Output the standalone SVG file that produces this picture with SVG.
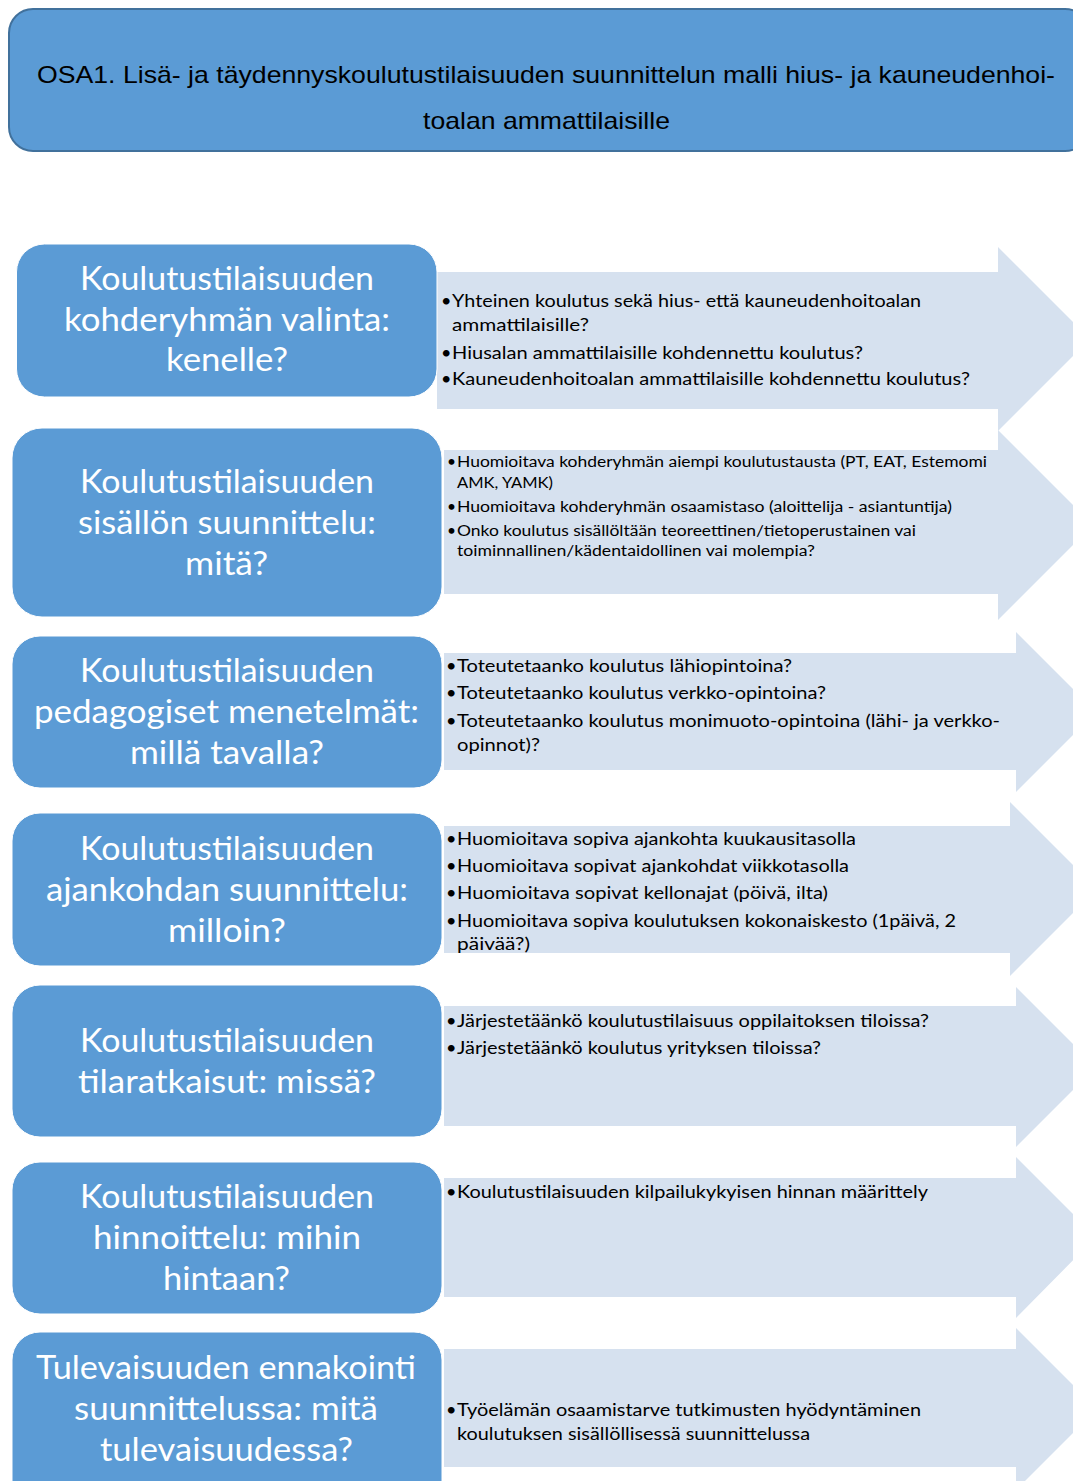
<svg xmlns="http://www.w3.org/2000/svg" width="1073" height="1481" viewBox="0 0 1073 1481">
<style>
.hdr{fill:#5B9BD5;stroke:#41719C;stroke-width:2}
.box{fill:#5B9BD5;stroke:#ffffff;stroke-width:1}
.arr{fill:#D6E1EF}
.ht{font-family:"Liberation Sans",Arial,sans-serif;font-size:24px;fill:#000}
.bt{font-family:Lato,"Open Sans",sans-serif;font-size:33px;fill:#ffffff}
.tt{font-family:Lato,"Open Sans",sans-serif;font-size:18px;fill:#000}
.ts{font-family:Lato,"Open Sans",sans-serif;font-size:15.5px;fill:#000}
</style>
<rect width="1073" height="1481" fill="#ffffff"/>
<g id="header">
<rect class="hdr" x="9" y="9" width="1080" height="142" rx="24"/>
<text class="ht" x="37" y="83" textLength="1018" lengthAdjust="spacingAndGlyphs">OSA1. Lisä- ja täydennyskoulutustilaisuuden suunnittelun malli hius- ja kauneudenhoi-</text>
<text class="ht" x="423" y="129" textLength="247" lengthAdjust="spacingAndGlyphs">toalan ammattilaisille</text>
</g>

<g id="arrow1">
<polygon class="arr" points="437,272 998,272 998,247 1090,339 998,431 998,409 437,409"/>
<text class="tt" x="441" y="307">•</text>
<text class="tt" x="452" y="307" textLength="469" lengthAdjust="spacingAndGlyphs">Yhteinen koulutus sekä hius- että kauneudenhoitoalan</text>
<text class="tt" x="452" y="331" textLength="137" lengthAdjust="spacingAndGlyphs">ammattilaisille?</text>
<text class="tt" x="441" y="359">•</text>
<text class="tt" x="452" y="359" textLength="411" lengthAdjust="spacingAndGlyphs">Hiusalan ammattilaisille kohdennettu koulutus?</text>
<text class="tt" x="441" y="385">•</text>
<text class="tt" x="452" y="385" textLength="518" lengthAdjust="spacingAndGlyphs">Kauneudenhoitoalan ammattilaisille kohdennettu koulutus?</text>
</g>
<g id="node1">
<rect class="box" x="16.5" y="244" width="420.5" height="153" rx="28"/>
<text class="bt" x="80" y="290" textLength="294" lengthAdjust="spacingAndGlyphs">Koulutustilaisuuden</text>
<text class="bt" x="64" y="331" textLength="326" lengthAdjust="spacingAndGlyphs">kohderyhmän valinta:</text>
<text class="bt" x="166" y="371" textLength="122" lengthAdjust="spacingAndGlyphs">kenelle?</text>
</g>

<g id="arrow2">
<polygon class="arr" points="444,450 998,450 998,430 1093,525 998,620 998,594 444,594"/>
<text class="ts" x="447" y="467">•</text>
<text class="ts" x="457" y="467" textLength="530" lengthAdjust="spacingAndGlyphs">Huomioitava kohderyhmän aiempi koulutustausta (PT, EAT, Estemomi</text>
<text class="ts" x="457" y="488" textLength="96" lengthAdjust="spacingAndGlyphs">AMK, YAMK)</text>
<text class="ts" x="447" y="512">•</text>
<text class="ts" x="457" y="512" textLength="495" lengthAdjust="spacingAndGlyphs">Huomioitava kohderyhmän osaamistaso (aloittelija - asiantuntija)</text>
<text class="ts" x="447" y="536">•</text>
<text class="ts" x="457" y="536" textLength="459" lengthAdjust="spacingAndGlyphs">Onko koulutus sisällöltään teoreettinen/tietoperustainen vai</text>
<text class="ts" x="457" y="556" textLength="358" lengthAdjust="spacingAndGlyphs">toiminnallinen/kädentaidollinen vai molempia?</text>
</g>
<g id="node2">
<rect class="box" x="12" y="428" width="430" height="189" rx="30"/>
<text class="bt" x="80" y="493" textLength="294" lengthAdjust="spacingAndGlyphs">Koulutustilaisuuden</text>
<text class="bt" x="78" y="534" textLength="298" lengthAdjust="spacingAndGlyphs">sisällön suunnittelu:</text>
<text class="bt" x="185" y="575" textLength="83" lengthAdjust="spacingAndGlyphs">mitä?</text>
</g>

<g id="arrow3">
<polygon class="arr" points="444,653 1016,653 1016,632 1096,712 1016,792 1016,770 444,770"/>
<text class="tt" x="446" y="672">•</text>
<text class="tt" x="457" y="672" textLength="335" lengthAdjust="spacingAndGlyphs">Toteutetaanko koulutus lähiopintoina?</text>
<text class="tt" x="446" y="699">•</text>
<text class="tt" x="457" y="699" textLength="369" lengthAdjust="spacingAndGlyphs">Toteutetaanko koulutus verkko-opintoina?</text>
<text class="tt" x="446" y="727">•</text>
<text class="tt" x="457" y="727" textLength="543" lengthAdjust="spacingAndGlyphs">Toteutetaanko koulutus monimuoto-opintoina (lähi- ja verkko-</text>
<text class="tt" x="457" y="751" textLength="83" lengthAdjust="spacingAndGlyphs">opinnot)?</text>
</g>
<g id="node3">
<rect class="box" x="12" y="636" width="430" height="152" rx="28"/>
<text class="bt" x="80" y="682" textLength="294" lengthAdjust="spacingAndGlyphs">Koulutustilaisuuden</text>
<text class="bt" x="34" y="723" textLength="385" lengthAdjust="spacingAndGlyphs">pedagogiset menetelmät:</text>
<text class="bt" x="130" y="764" textLength="194" lengthAdjust="spacingAndGlyphs">millä tavalla?</text>
</g>

<g id="arrow4">
<polygon class="arr" points="444,826 1010,826 1010,802 1097,889 1010,976 1010,953 444,953"/>
<text class="tt" x="446" y="845">•</text>
<text class="tt" x="457" y="845" textLength="399" lengthAdjust="spacingAndGlyphs">Huomioitava sopiva ajankohta kuukausitasolla</text>
<text class="tt" x="446" y="872">•</text>
<text class="tt" x="457" y="872" textLength="392" lengthAdjust="spacingAndGlyphs">Huomioitava sopivat ajankohdat viikkotasolla</text>
<text class="tt" x="446" y="899">•</text>
<text class="tt" x="457" y="899" textLength="371" lengthAdjust="spacingAndGlyphs">Huomioitava sopivat kellonajat (pöivä, ilta)</text>
<text class="tt" x="446" y="927">•</text>
<text class="tt" x="457" y="927" textLength="499" lengthAdjust="spacingAndGlyphs">Huomioitava sopiva koulutuksen kokonaiskesto (1päivä, 2</text>
<text class="tt" x="457" y="950" textLength="73" lengthAdjust="spacingAndGlyphs">päivää?)</text>
</g>
<g id="node4">
<rect class="box" x="12" y="813" width="430" height="153" rx="28"/>
<text class="bt" x="80" y="860" textLength="294" lengthAdjust="spacingAndGlyphs">Koulutustilaisuuden</text>
<text class="bt" x="46" y="901" textLength="362" lengthAdjust="spacingAndGlyphs">ajankohdan suunnittelu:</text>
<text class="bt" x="168" y="942" textLength="118" lengthAdjust="spacingAndGlyphs">milloin?</text>
</g>

<g id="arrow5">
<polygon class="arr" points="444,1006 1016,1006 1016,987 1096,1067 1016,1147 1016,1126 444,1126"/>
<text class="tt" x="446" y="1027">•</text>
<text class="tt" x="457" y="1027" textLength="472" lengthAdjust="spacingAndGlyphs">Järjestetäänkö koulutustilaisuus oppilaitoksen tiloissa?</text>
<text class="tt" x="446" y="1054">•</text>
<text class="tt" x="457" y="1054" textLength="364" lengthAdjust="spacingAndGlyphs">Järjestetäänkö koulutus yrityksen tiloissa?</text>
</g>
<g id="node5">
<rect class="box" x="12" y="985" width="430" height="152" rx="28"/>
<text class="bt" x="80" y="1052" textLength="294" lengthAdjust="spacingAndGlyphs">Koulutustilaisuuden</text>
<text class="bt" x="78" y="1093" textLength="298" lengthAdjust="spacingAndGlyphs">tilaratkaisut: missä?</text>
</g>

<g id="arrow6">
<polygon class="arr" points="444,1178 1016,1178 1016,1157 1096,1237 1016,1318 1016,1297 444,1297"/>
<text class="tt" x="446" y="1198">•</text>
<text class="tt" x="457" y="1198" textLength="471" lengthAdjust="spacingAndGlyphs">Koulutustilaisuuden kilpailukykyisen hinnan määrittely</text>
</g>
<g id="node6">
<rect class="box" x="12" y="1162" width="430" height="152" rx="28"/>
<text class="bt" x="80" y="1208" textLength="294" lengthAdjust="spacingAndGlyphs">Koulutustilaisuuden</text>
<text class="bt" x="93" y="1249" textLength="268" lengthAdjust="spacingAndGlyphs">hinnoittelu: mihin</text>
<text class="bt" x="163" y="1290" textLength="127" lengthAdjust="spacingAndGlyphs">hintaan?</text>
</g>

<g id="arrow7">
<polygon class="arr" points="444,1349 1016,1349 1016,1328 1097,1409 1016,1490 1016,1467 444,1467"/>
<text class="tt" x="446" y="1416">•</text>
<text class="tt" x="457" y="1416" textLength="464" lengthAdjust="spacingAndGlyphs">Työelämän osaamistarve tutkimusten hyödyntäminen</text>
<text class="tt" x="457" y="1440" textLength="353" lengthAdjust="spacingAndGlyphs">koulutuksen sisällöllisessä suunnittelussa</text>
</g>
<g id="node7">
<rect class="box" x="12" y="1332" width="430" height="180" rx="28"/>
<text class="bt" x="36" y="1379" textLength="380" lengthAdjust="spacingAndGlyphs">Tulevaisuuden ennakointi</text>
<text class="bt" x="74" y="1420" textLength="304" lengthAdjust="spacingAndGlyphs">suunnittelussa: mitä</text>
<text class="bt" x="100" y="1461" textLength="253" lengthAdjust="spacingAndGlyphs">tulevaisuudessa?</text>
</g>
</svg>
